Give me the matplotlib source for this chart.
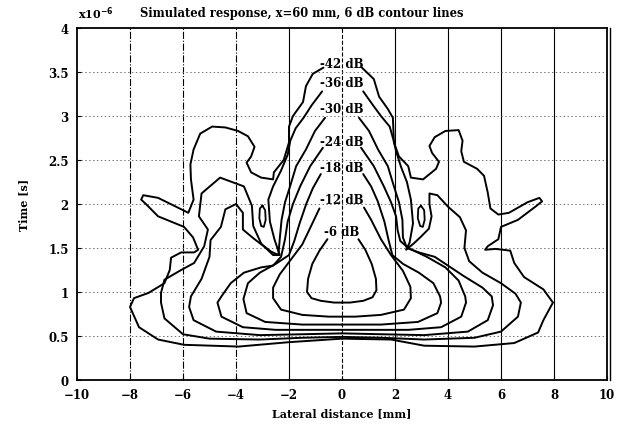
import matplotlib
matplotlib.use('Agg')
import matplotlib.pyplot as plt

# contour lines, x in mm, t in units of 1e-6 s
# each level: left half and right half, from the label down round to the bottom centre
L6 = [(-0.55, 1.6), (-0.85, 1.47), (-1.12, 1.32), (-1.28, 1.15), (-1.32, 1.0), (-1.15, 0.93),
      (-0.8, 0.9), (-0.3, 0.88), (0, 0.88)]
R6 = [(0.62, 1.6), (0.88, 1.48), (1.12, 1.32), (1.28, 1.15), (1.3, 1.02), (1.15, 0.94),
      (0.8, 0.9), (0.3, 0.88), (0, 0.88)]

L12 = [(-0.85, 1.95), (-1.15, 1.76), (-1.5, 1.54), (-1.9, 1.38), (-2.35, 1.2), (-2.6, 1.05),
       (-2.6, 0.93), (-2.3, 0.8), (-1.5, 0.74), (-0.5, 0.72), (0, 0.72)]
R12 = [(0.83, 1.96), (1.1, 1.82), (1.47, 1.6), (1.85, 1.42), (2.3, 1.24), (2.58, 1.06),
       (2.6, 0.93), (2.34, 0.8), (1.47, 0.74), (0.5, 0.72), (0, 0.72)]

L18 = [(-0.8, 2.34), (-1.1, 2.18), (-1.35, 2.0), (-1.6, 1.78), (-1.8, 1.58), (-2.0, 1.42),
       (-2.5, 1.32), (-3.1, 1.22), (-3.55, 1.1), (-3.72, 0.92), (-3.6, 0.76), (-2.9, 0.66),
       (-1.5, 0.63), (0, 0.63)]
R18 = [(0.8, 2.34), (1.1, 2.2), (1.35, 2.03), (1.6, 1.8), (1.75, 1.6), (1.9, 1.42),
       (2.3, 1.32), (2.9, 1.22), (3.45, 1.1), (3.7, 0.95), (3.74, 0.88), (3.6, 0.76),
       (2.87, 0.66), (1.47, 0.63), (0, 0.63)]

L24 = [(-0.72, 2.64), (-1.2, 2.43), (-1.58, 2.2), (-1.85, 2.0), (-2.05, 1.8), (-2.15, 1.6),
       (-2.3, 1.4), (-2.6, 1.3), (-3.05, 1.28), (-3.7, 1.22), (-4.2, 1.1), (-4.55, 0.95),
       (-4.7, 0.88), (-4.55, 0.72), (-3.74, 0.6), (-2.5, 0.57), (0, 0.57)]
R24 = [(0.72, 2.64), (1.2, 2.43), (1.58, 2.2), (1.85, 2.02), (2.04, 1.86), (2.1, 1.7),
       (2.2, 1.58), (2.5, 1.5), (3.2, 1.4), (3.9, 1.28), (4.4, 1.13), (4.65, 0.95),
       (4.68, 0.88), (4.5, 0.72), (3.74, 0.6), (2.5, 0.57), (0, 0.57)]

L30 = [(-0.64, 2.98), (-1.02, 2.83), (-1.36, 2.62), (-1.73, 2.43), (-1.96, 2.2), (-2.15, 2.02),
       (-2.28, 1.82), (-2.35, 1.6), (-2.4, 1.42), (-2.68, 1.46), (-3.3, 1.6), (-3.74, 1.71),
       (-3.74, 1.9), (-4.0, 2.0), (-4.4, 1.94), (-4.57, 1.74), (-4.96, 1.59), (-5.0, 1.4),
       (-5.3, 1.15), (-5.7, 0.95), (-5.77, 0.83), (-5.6, 0.68), (-4.75, 0.55), (-3.1, 0.51),
       (-1.5, 0.52), (0, 0.53)]
R30 = [(0.64, 2.98), (1.02, 2.83), (1.36, 2.62), (1.73, 2.43), (1.96, 2.2), (2.15, 2.02),
       (2.28, 1.82), (2.3, 1.62), (2.45, 1.5), (2.9, 1.45), (3.5, 1.4), (4.0, 1.3),
       (4.6, 1.18), (5.3, 1.05), (5.65, 0.95), (5.7, 0.85), (5.5, 0.68), (4.75, 0.55),
       (3.1, 0.51), (1.5, 0.52), (0, 0.53)]

L36 = [(-0.75, 3.28), (-1.15, 3.12), (-1.45, 2.98), (-1.75, 2.86), (-1.95, 2.72), (-2.05, 2.56),
       (-2.3, 2.38), (-2.6, 2.2), (-2.78, 2.05), (-2.72, 1.8), (-2.55, 1.6), (-2.35, 1.42),
       (-2.6, 1.42), (-3.05, 1.55), (-3.35, 1.75), (-3.4, 1.98), (-3.7, 2.2), (-4.6, 2.3),
       (-5.3, 2.12), (-5.4, 1.86), (-5.06, 1.71), (-5.2, 1.52), (-5.58, 1.33), (-6.07, 1.25),
       (-6.7, 1.14), (-6.83, 0.99), (-6.83, 0.88), (-6.7, 0.7), (-6.0, 0.52), (-5.0, 0.47),
       (-3.1, 0.46), (-1.5, 0.48), (0, 0.49)]
R36 = [(0.8, 3.28), (1.2, 3.11), (1.47, 3.0), (1.8, 2.88), (1.95, 2.72), (2.04, 2.6),
       (2.23, 2.42), (2.45, 2.25), (2.6, 2.05), (2.68, 1.78), (2.55, 1.56), (2.42, 1.48),
       (2.7, 1.55), (2.95, 1.62), (3.28, 1.72), (3.38, 1.86), (3.3, 2.0), (3.3, 2.12),
       (3.6, 2.1), (4.0, 1.97), (4.45, 1.85), (4.68, 1.7), (4.62, 1.5), (4.8, 1.35),
       (5.3, 1.22), (6.0, 1.1), (6.55, 0.98), (6.75, 0.88), (6.64, 0.72), (6.0, 0.55),
       (5.0, 0.48), (3.1, 0.46), (1.5, 0.48), (0, 0.49)]

L42 = [(-0.7, 3.55), (-1.1, 3.48), (-1.36, 3.34), (-1.47, 3.16), (-1.85, 3.0), (-2.0, 2.88),
       (-2.0, 2.7), (-2.2, 2.5), (-2.57, 2.36), (-2.6, 2.28), (-3.05, 2.3), (-3.43, 2.36),
       (-3.6, 2.47), (-3.43, 2.54), (-3.3, 2.65), (-3.55, 2.77), (-3.92, 2.83), (-4.4, 2.87),
       (-4.9, 2.88), (-5.35, 2.8), (-5.6, 2.62), (-5.72, 2.45), (-5.7, 2.28), (-5.6, 2.05),
       (-5.8, 1.9), (-6.2, 1.96), (-6.94, 2.07), (-7.5, 2.1), (-7.58, 2.05), (-7.4, 2.0),
       (-6.94, 1.86), (-6.45, 1.8), (-5.96, 1.74), (-5.62, 1.62), (-5.43, 1.48), (-5.58, 1.45),
       (-6.07, 1.45), (-6.45, 1.39), (-6.5, 1.25), (-6.7, 1.1), (-7.3, 0.99), (-7.85, 0.93),
       (-8.0, 0.83), (-7.66, 0.6), (-6.94, 0.46), (-5.96, 0.4), (-3.9, 0.38), (-2.0, 0.43),
       (0, 0.47)]
R42 = [(0.75, 3.55), (1.2, 3.42), (1.4, 3.22), (1.73, 3.08), (1.92, 2.98), (1.96, 2.7),
       (2.15, 2.54), (2.5, 2.43), (2.6, 2.3), (3.06, 2.28), (3.55, 2.4), (3.66, 2.48),
       (3.4, 2.58), (3.3, 2.66), (3.5, 2.76), (3.9, 2.83), (4.4, 2.84), (4.55, 2.72),
       (4.5, 2.6), (4.6, 2.48), (5.1, 2.4), (5.36, 2.32), (5.5, 2.13), (5.6, 1.95),
       (5.9, 1.88), (6.3, 1.9), (7.0, 2.02), (7.45, 2.07), (7.55, 2.03), (7.3, 1.97),
       (6.64, 1.82), (6.0, 1.74), (5.9, 1.6), (5.5, 1.52), (5.4, 1.48), (5.8, 1.49),
       (6.35, 1.47), (6.5, 1.33), (6.87, 1.17), (7.6, 1.03), (7.96, 0.88), (7.6, 0.68),
       (7.4, 0.54), (6.5, 0.42), (5.0, 0.38), (3.1, 0.39), (1.85, 0.46), (0, 0.47)]

# the two small closed loops beside the centre
islands = [
    [(-3.0, 1.98), (-2.9, 1.93), (-2.88, 1.82), (-2.95, 1.74), (-3.05, 1.75), (-3.12, 1.84),
     (-3.1, 1.95), (-3.0, 1.98)],
    [(2.98, 1.98), (3.1, 1.93), (3.12, 1.82), (3.05, 1.74), (2.95, 1.75), (2.86, 1.84),
     (2.88, 1.95), (2.98, 1.98)],
]

levels = ['-6 dB', '-12 dB', '-18 dB', '-24 dB', '-30 dB', '-36 dB', '-42 dB']
label_t = [1.69, 2.05, 2.42, 2.71, 3.09, 3.38, 3.60]
lines = [(L6, R6), (L12, R12), (L18, R18), (L24, R24), (L30, R30), (L36, R36), (L42, R42)]

x_ticks = [-10, -8, -6, -4, -2, 0, 2, 4, 6, 8, 10]
y_ticks = [0, 0.5, 1, 1.5, 2, 2.5, 3, 3.5, 4]
y_ticklabels = ['0', '0.5', '1', '1.5', '2', '2.5', '3', '3.5', '4']

plt.rcParams['font.family'] = ['DejaVu Serif']
plt.rcParams['font.weight'] = 'bold'

fig = plt.figure(figsize=(6.23, 4.39), dpi=100)
ax = fig.add_axes([0.1236, 0.1321, 0.8507, 0.8018])

# grid, drawn by hand to get the mixed line styles of the print
vstyles = {-8: '-.', -6: '-.', -4: '-.', -2: '-', 0: '--', 2: '-', 4: '-', 6: '-', 8: '-'}
for xv, ls in vstyles.items():
    ax.axvline(xv, color='black', lw=0.8, ls=ls, zorder=1)
for yv in y_ticks[1:-1]:
    ax.axhline(yv, color='0.45', lw=0.7, ls=(0, (1.5, 2.5)), zorder=1)

for (left, right) in lines:
    for part in (left, right):
        ax.plot([p[0] for p in part], [p[1] for p in part], color='black', lw=1.4,
                solid_joinstyle='round', solid_capstyle='round', zorder=3)
for isl in islands:
    ax.plot([p[0] for p in isl], [p[1] for p in isl], color='black', lw=1.3, zorder=3)

for lab, tl in zip(levels, label_t):
    ax.text(0, tl, lab, ha='center', va='center', fontsize=8.5, fontweight='bold', zorder=4)

ax.set_xlim(-10, 10)
ax.set_ylim(0, 4)
ax.set_xticks(x_ticks)
ax.set_xticklabels([str(v).replace('-', '\u2212') for v in x_ticks])
ax.set_yticks(y_ticks)
ax.set_yticklabels(y_ticklabels)
ax.tick_params(direction='in', length=3, labelsize=8.5, width=0.8)
ax.tick_params(axis='x', pad=6)
ax.tick_params(axis='y', pad=6)
for sp in ax.spines.values():
    sp.set_linewidth(1.3)
ax.plot([10.12, 10.12], [0, 4], color='black', lw=1.0, clip_on=False)

ax.set_xlabel('Lateral distance [mm]', fontsize=8, fontweight='bold', labelpad=4)
ax.set_ylabel('Time [s]', fontsize=8, fontweight='bold', labelpad=14)
fig.text(302 / 623, 1 - 14 / 439, 'Simulated response, x=60 mm, 6 dB contour lines',
         ha='center', va='center', fontsize=8.3, fontweight='bold')
fig.text(78 / 623, 1 - 14 / 439, r'x10$^{-6}$', ha='left', va='center', fontsize=8,
         fontweight='bold')

fig.savefig('out.png', dpi=100)
